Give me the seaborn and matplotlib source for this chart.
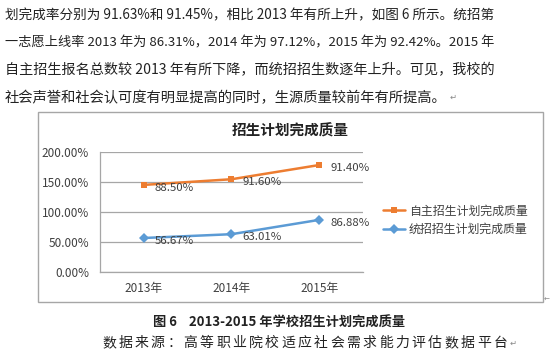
import numpy as np
import pandas as pd
import matplotlib
matplotlib.use("Agg")
import matplotlib.pyplot as plt
import seaborn as sns
from matplotlib.patches import Rectangle

sns.set_style("white")
plt.rcParams['font.family'] = ['Noto Sans CJK SC', 'DejaVu Sans']

# ------------------------------
# Data
# ------------------------------
years = ["2013年", "2014年", "2015年"]
zizhu = [88.50, 91.60, 91.40]        # 自主招生计划完成质量
tongzhao = [56.67, 63.01, 86.88]     # 统招招生计划完成质量
y_ticks = [0, 50, 100, 150, 200]

para_lines = [
    "划完成率分别为 91.63%和 91.45%，相比 2013 年有所上升，如图 6 所示。统招第",
    "一志愿上线率 2013 年为 86.31%，2014 年为 97.12%，2015 年为 92.42%。2015 年",
    "自主招生报名总数较 2013 年有所下降，而统招招生数逐年上升。可见，我校的",
    "社会声誉和社会认可度有明显提高的同时，生源质量较前年有所提高。",
]
chart_title = "招生计划完成质量"
series_names = ["自主招生计划完成质量", "统招招生计划完成质量"]
caption = "图 6    2013-2015 年学校招生计划完成质量"
source = "数据来源：高等职业院校适应社会需求能力评估数据平台"

# stacked line chart: orange sits on top of blue
df = pd.DataFrame({
    "year": years * 2,
    "value": list(np.add(tongzhao, zizhu)) + tongzhao,
    "label": zizhu + tongzhao,
    "series": [series_names[0]] * 3 + [series_names[1]] * 3,
})

W, H = 550, 362


def fx(x):
    return x / W


def fy(y):
    return 1 - y / H


fig = plt.figure(figsize=(5.5, 3.62), dpi=100)
renderer = fig.canvas.get_renderer()

# ------------------------------
# Paragraph text above the chart (lines 1-3 fitted to the text width)
# ------------------------------
base_size = 10.3
line_width = 487
last = None
for i, line in enumerate(para_lines):
    t = fig.text(fx(5), fy(15 + i * 27.5), line, fontsize=base_size, color="#222222",
                 ha="left", va="center")
    if i < len(para_lines) - 1:
        natural = t.get_window_extent(renderer).width
        t.set_fontsize(base_size * line_width / natural)
    last = t
end_x = last.get_window_extent(renderer).x1
fig.text(end_x / fig.bbox.width + 0.005, fy(97), "↵", fontsize=6, color="#888888",
         ha="left", va="center", family="DejaVu Sans")

# chart frame
fig.patches.append(Rectangle((fx(38), fy(302)), fx(543) - fx(38), fy(112) - fy(302),
                             transform=fig.transFigure, fill=False,
                             edgecolor="#A6A6A6", linewidth=1.0))
fig.text(fx(547), fy(300), "←", fontsize=5, color="#888888", ha="center",
         va="center", family="DejaVu Sans")

# ------------------------------
# Line chart
# ------------------------------
ax = fig.add_axes([fx(100), fy(272), fx(363) - fx(100), fy(152) - fy(272)])
palette = {series_names[0]: "#ED7D31", series_names[1]: "#5B9BD5"}
sns.lineplot(data=df, x="year", y="value", hue="series", style="series",
             palette=palette, markers={series_names[0]: "s", series_names[1]: "D"},
             dashes=False, markersize=5, linewidth=1.8, markeredgewidth=0,
             sort=False, ax=ax)

for _, row in df.iterrows():
    ax.annotate(f"{row['label']:.2f}%", (years.index(row["year"]), row["value"]),
                xytext=(8, -2), textcoords="offset points", ha="left", va="center",
                fontsize=8.2, color="#404040")

ax.set_xlim(-0.5, 2.5)
ax.set_ylim(0, 200)
ax.set_yticks(y_ticks)
ax.set_yticklabels([f"{v:.2f}%" for v in y_ticks])
ax.set_xlabel("")
ax.set_ylabel("")
ax.tick_params(axis="y", length=0, pad=8, labelsize=8.5, labelcolor="#404040")
ax.tick_params(axis="x", length=0, pad=7, labelsize=8.5, labelcolor="#404040")
ax.grid(True, axis="y", color="#A6A6A6", linewidth=0.9)
ax.set_axisbelow(True)
for side in ["top", "right"]:
    ax.spines[side].set_visible(False)
for side in ["left", "bottom"]:
    ax.spines[side].set_color("#A6A6A6")
    ax.spines[side].set_linewidth(0.9)

fig.text(fx(290), fy(131), chart_title, fontsize=10.5, fontweight="bold",
         ha="center", va="center", color="#222222")

handles, labels = ax.get_legend_handles_labels()
ax.legend(handles, labels, loc="center left", bbox_to_anchor=(fx(372), fy(220)),
          bbox_transform=fig.transFigure, frameon=False, fontsize=8.6,
          handlelength=1.9, handletextpad=0.3, labelspacing=0.45,
          labelcolor="#404040")

# ------------------------------
# Caption and source
# ------------------------------
fig.text(fx(279), fy(323), caption, fontsize=9.5, fontweight="bold",
         ha="center", va="center", color="#222222")
# source line is set with wide letter spacing
for i, ch in enumerate(source):
    fig.text(fx(102 + i * 16.3), fy(343), ch, fontsize=10, ha="left",
             va="center", color="#222222")
fig.text(fx(102 + len(source) * 16.3), fy(343), "↵", fontsize=6, color="#888888",
         ha="left", va="center", family="DejaVu Sans")

fig.savefig("out.png", dpi=100)
plt.close(fig)
